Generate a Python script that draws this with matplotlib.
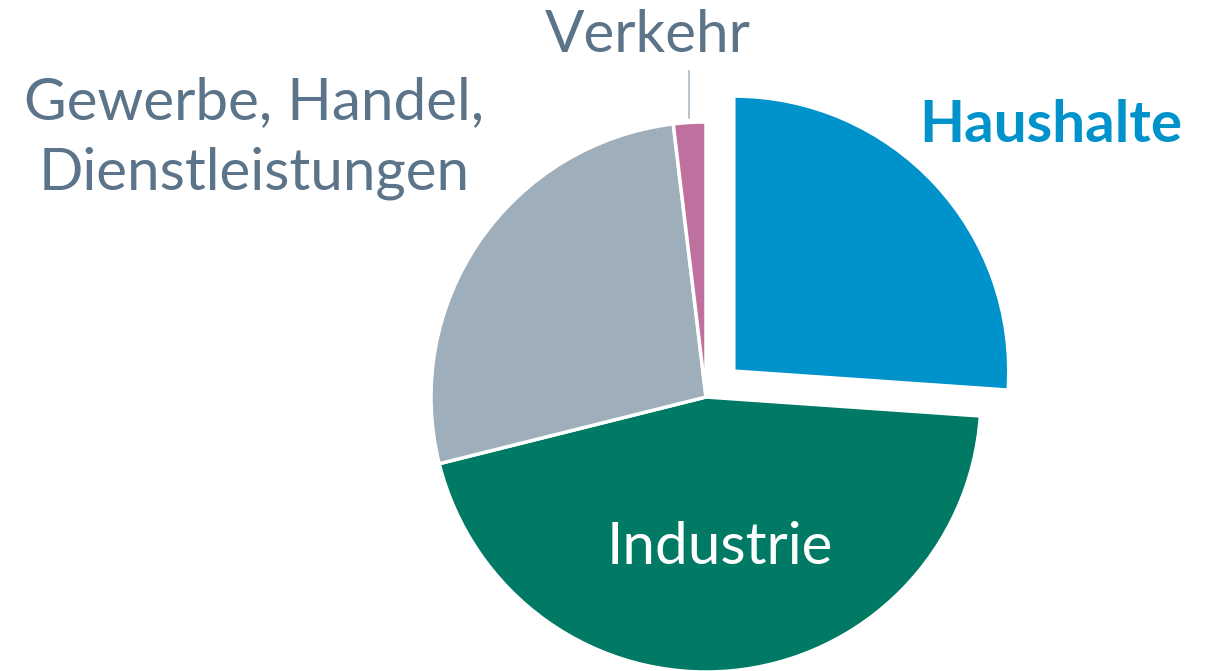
import matplotlib
matplotlib.use("Agg")
import matplotlib.pyplot as plt

categories = ["Haushalte", "Industrie", "Gewerbe, Handel,\nDienstleistungen", "Verkehr"]
values = [26.1, 45.0, 27.0, 1.9]
colors = ["#0093CB", "#007A65", "#9FAEBB", "#C0709E"]

plt.rcParams['font.family'] = ['Lato', 'DejaVu Sans']

W, H = 1209, 671
fig = plt.figure(figsize=(W / 100, H / 100), dpi=100)
ax = fig.add_axes([0, 0, 1, 1])
cx, cy, r = 706, H - 397, 275
explode = [38, 0, 0, 0]
ax.pie(values, colors=colors, explode=explode, startangle=90, counterclock=False,
       center=(cx, cy), radius=r, frame=True,
       wedgeprops=dict(edgecolor="white", linewidth=2.5))
ax.set_xlim(0, W)
ax.set_ylim(0, H)
ax.set_aspect('equal')
ax.axis('off')

grey = "#5B7489"
fs = 42
ax.text(1051, H - 126, categories[0], color="#0093CB", fontsize=fs, fontweight='bold',
        ha='center', va='center')
ax.text(720, H - 548, categories[1], color="white", fontsize=fs, ha='center', va='center')
ax.text(254, H - 138, categories[2], color=grey, fontsize=fs, ha='center', va='center',
        linespacing=1.4)
ax.text(648, H - 35, categories[3], color=grey, fontsize=fs, ha='center', va='center')
ax.plot([689, 689], [H - 71, H - 118], color="#A9B8C4", linewidth=1.2)

fig.savefig("out.png", dpi=100)
